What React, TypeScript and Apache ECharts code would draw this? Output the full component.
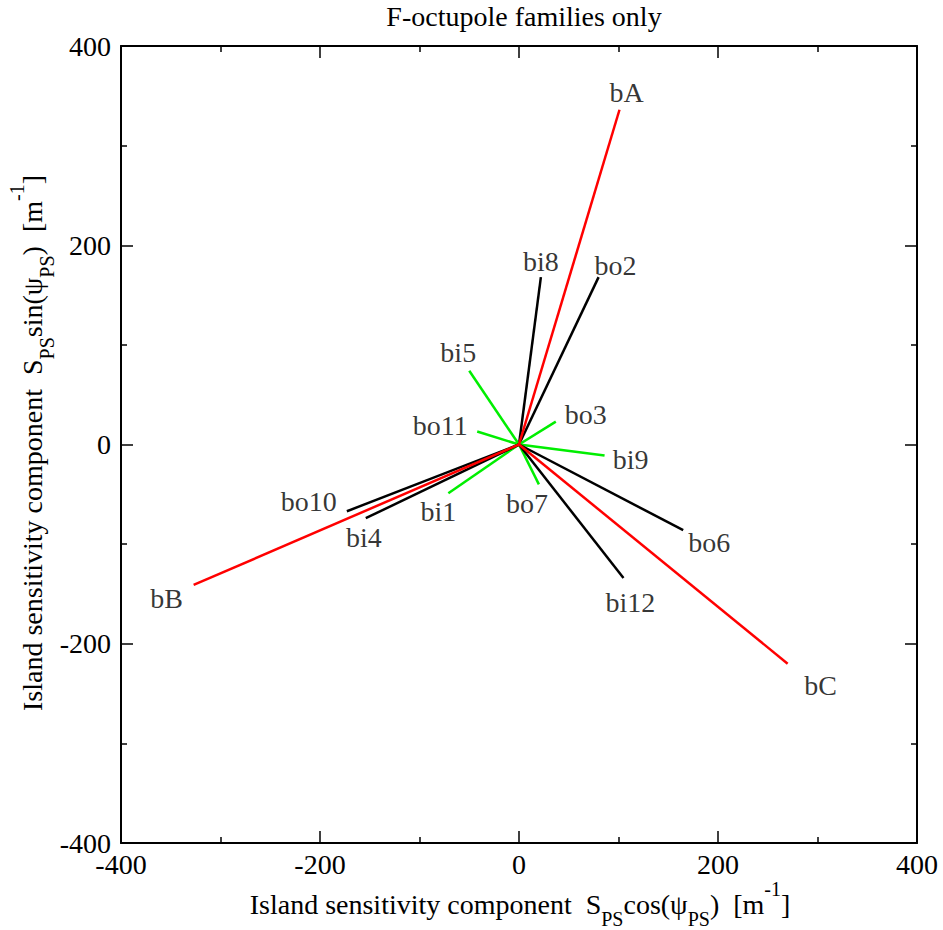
import React, { useEffect, useRef } from "react";
import * as echarts from "echarts";

const names = ["bA", "bB", "bC", "bi8", "bo2", "bi5", "bo11", "bo3", "bi9", "bo7", "bi1", "bo10", "bi4", "bo6", "bi12"];
const xs = [101, -327, 270, 22, 80, -50, -42, 37, 86, 20, -71, -173, -154, 165, 105];
const ys = [336, -141, -220, 168, 168, 74, 13, 23, -11, -40, -49, -67, -74, -86, -134];
const groups = ["red", "red", "red", "black", "black", "green", "green", "green", "green", "green", "green", "black", "black", "black", "black"];

const titleText = "F-octupole families only";
const xNameText = "{m|Island sensitivity component  S}{sub|PS}{m|cos(ψ}{sub|PS}{m|)  [m}{sup|-1}{m|]}";
const yNameText = "{m|Island sensitivity component  S}{sub|PS}{m|sin(ψ}{sub|PS}{m|)  [m}{sup|-1}{m|]}";

// label offsets in pixels (style only)
const labelOffsets: [number, number][] = [
  [7, -17], [-27, 14], [33, 22], [0, -16], [17, -12], [-11, -18], [-37, -6], [30, -7],
  [26, 4], [-12, 19], [-10, 18], [-38, -10], [-2, 19], [26, 12], [7, 25],
];

const colorMap: Record<string, string> = { red: "#ff0000", black: "#000000", green: "#00ee00" };
const FONT = "'Liberation Serif', 'Times New Roman', 'DejaVu Serif', serif";
const FS = 28;

export default function App() {
  const ref = useRef<HTMLDivElement>(null);
  useEffect(() => {
    if (!ref.current) return;
    const chart = echarts.init(ref.current, undefined, { renderer: "svg" });
    const rich = {
      m: { fontFamily: FONT, fontSize: FS, fill: "#000", lineHeight: 50, verticalAlign: "middle" },
      sub: { fontFamily: FONT, fontSize: 20, fill: "#000", lineHeight: 18, verticalAlign: "bottom" },
      sup: { fontFamily: FONT, fontSize: 20, fill: "#000", lineHeight: 38, verticalAlign: "top" },
    };
    const axisCommon = {
      type: "value" as const,
      min: -400,
      max: 400,
      interval: 200,
      splitLine: { show: false },
      axisLine: { show: true, onZero: false, lineStyle: { color: "#000", width: 2 } },
      axisTick: { show: true, inside: true, length: 12, lineStyle: { color: "#000", width: 1.5 } },
      minorTick: { show: true, splitNumber: 2, length: 6, lineStyle: { color: "#000", width: 1.5 } },
    };
    const lineSeries = names.map((n, i) => ({
      type: "line" as const,
      name: n,
      data: [[0, 0], [xs[i], ys[i]]],
      symbol: "none",
      lineStyle: { color: colorMap[groups[i]], width: 2.5 },
      z: groups[i] === "red" ? 3 : 2,
    }));
    const labelSeries = {
      type: "scatter" as const,
      symbolSize: 1,
      itemStyle: { color: "rgba(0,0,0,0)" },
      silent: true,
      z: 5,
      data: names.map((n, i) => ({
        value: [xs[i], ys[i]],
        name: n,
        label: {
          show: true,
          position: "inside" as const,
          offset: labelOffsets[i],
          formatter: n,
          fontFamily: FONT,
          fontSize: FS,
          color: "#000",
          textBorderWidth: 0,
          align: "center" as const,
          verticalAlign: "middle" as const,
        },
      })),
    };
    chart.setOption({
      animation: false,
      backgroundColor: "#fff",
      textStyle: { fontFamily: FONT },
      title: {
        text: titleText,
        left: 519,
        top: -3,
        textAlign: "center",
        textStyle: { fontFamily: FONT, fontSize: FS, fontWeight: "normal", color: "#000" },
      },
      grid: { left: 121, right: 26, top: 46, bottom: 87, containLabel: false, outerBoundsMode: "none" },
      xAxis: [
        {
          ...axisCommon,
          position: "bottom",
          axisLabel: { fontFamily: FONT, fontSize: FS, color: "#000", margin: 7 },
        },
        { ...axisCommon, position: "top", axisLabel: { show: false } },
      ],
      yAxis: [
        {
          ...axisCommon,
          position: "left",
          axisLabel: { fontFamily: FONT, fontSize: FS, color: "#000", margin: 10 },
        },
        { ...axisCommon, position: "right", axisLabel: { show: false } },
      ],
      graphic: [
        {
          type: "text",
          x: 520,
          y: 904,
          silent: true,
          style: { text: xNameText, rich, align: "center", verticalAlign: "middle", fontFamily: FONT, fontSize: FS, fill: "#000" },
        },
        {
          type: "text",
          x: 32,
          y: 443,
          rotation: Math.PI / 2,
          silent: true,
          style: { text: yNameText, rich, align: "center", verticalAlign: "middle", fontFamily: FONT, fontSize: FS, fill: "#000" },
        },
      ],
      series: [...lineSeries, labelSeries],
    });
    return () => chart.dispose();
  }, []);
  return <div ref={ref} style={{ position: "absolute", left: 0, top: 0, width: 943, height: 930 }} />;
}
